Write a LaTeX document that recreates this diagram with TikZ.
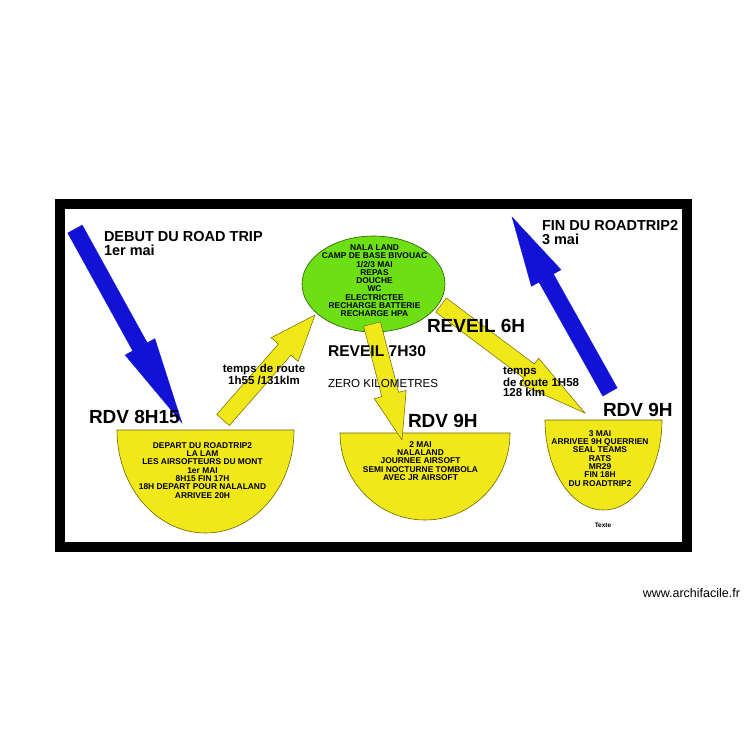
\documentclass[tikz,border=0pt]{standalone}
\usepackage{fontspec}
\setmainfont{Liberation Sans}
\usetikzlibrary{calc}
\definecolor{arrblue}{RGB}{18,18,214}
\definecolor{ryellow}{RGB}{240,232,24}
\definecolor{yline}{RGB}{110,100,0}
\definecolor{rgreen}{RGB}{108,224,20}
\definecolor{gline}{RGB}{40,90,0}
\newcommand\fatarr[6]{%
  \coordinate (fatH) at ($(#2)!#5!(#1)$);
  \filldraw[#6] ($(#1)!#3!90:(#2)$) -- ($(fatH)!#3!90:(#2)$) -- ($(fatH)!#4!90:(#2)$) -- (#2)
    -- ($(fatH)!#4!-90:(#2)$) -- ($(fatH)!#3!-90:(#2)$) -- ($(#1)!#3!-90:(#2)$) -- cycle;}
\tikzset{
  bluearr/.style={fill=arrblue,draw=arrblue,line width=0.3pt},
  yelarr/.style={fill=ryellow,draw=yline,line width=0.5pt},
  bowl/.style={fill=ryellow,draw=yline,line width=0.6pt},
  txt/.style={inner sep=0pt,outer sep=0pt},
  big/.style={txt,font=\fontsize{19}{19}\selectfont\bfseries},
  title/.style={txt,align=left,font=\fontsize{14.5}{14}\selectfont\bfseries},
  small/.style={txt,align=center,font=\fontsize{8.4}{8.3}\selectfont\bfseries},
  route/.style={txt,font=\fontsize{11.5}{10.6}\selectfont\bfseries},
}
\begin{document}
\begin{tikzpicture}[x=1pt,y=-1pt]
\useasboundingbox[fill=white] (0,0) rectangle (750,750);
% frame
\draw[line width=10pt,black] (60,204) rectangle (687,547);
% ellipse
\draw[fill=rgreen,draw=gline,line width=0.6pt] (373.5,284) ellipse [x radius=71.5pt,y radius=48pt];
% bowls
\draw[bowl] (117,430) arc[start angle=180,end angle=360,x radius=88.5pt,y radius=103pt] -- cycle;
\draw[bowl] (340,433) arc[start angle=180,end angle=360,x radius=85pt,y radius=87pt] -- cycle;
\draw[bowl] (545,420) arc[start angle=180,end angle=360,x radius=58.5pt,y radius=90pt] -- cycle;
% arrow end points
\coordinate (bla) at (75,229);   \coordinate (blb) at (182,423);
\coordinate (bra) at (610,392);  \coordinate (brb) at (512,217);
\coordinate (yla) at (223,420);  \coordinate (ylb) at (315,315);
\coordinate (yma) at (372,324);  \coordinate (ymb) at (402,440);
\coordinate (yra) at (441,305);  \coordinate (yrb) at (585,413);
% arrows
\fatarr{yla}{ylb}{8.4pt}{18pt}{46pt}{yelarr}
\fatarr{yma}{ymb}{8.7pt}{16.5pt}{47pt}{yelarr}
\fatarr{yra}{yrb}{8.8pt}{16pt}{70pt}{yelarr}
\fatarr{bla}{blb}{8.3pt}{17pt}{87pt}{bluearr}
\fatarr{bra}{brb}{8.3pt}{17pt}{70pt}{bluearr}
% texts
\node[title,anchor=north west] (debut) at (104,231) {DEBUT DU ROAD TRIP\\1er mai};
\node[title,anchor=north west] (fin) at (542,220.5) {FIN DU ROADTRIP2\\3 mai};
\node[big,anchor=base west] (rdv1) at (89,423) {RDV 8H15};
\node[big,anchor=base west] (rdv2) at (408,427) {RDV 9H};
\node[big,anchor=base west] (rdv3) at (603,416) {RDV 9H};
\node[big,anchor=base west] (rev6) at (427,332) {REVEIL 6H};
\node[txt,anchor=base west,font=\fontsize{15.6}{15.6}\selectfont\bfseries] (rev7) at (328,356) {REVEIL 7H30};
\node[txt,anchor=base west,font=\fontsize{11.6}{11.6}\selectfont] (zero) at (328,387) {ZERO KILOMETRES};
\node[route,align=center,anchor=north] (route1) at (264,364.5) {temps de route\\1h55 /131klm};
\node[route,align=left,anchor=north west] (route2) at (503,366.8) {temps\\de route 1H58\\128 klm};
\node[small,anchor=north] (camp) at (374.5,244.7) {NALA LAND\\CAMP DE BASE BIVOUAC\\1/2/3 MAI\\REPAS\\DOUCHE\\WC\\ELECTRICTEE\\RECHARGE BATTERIE\\RECHARGE HPA};
\node[small,anchor=north] (jour1) at (202.5,442.5) {DEPART DU ROADTRIP2\\LA LAM\\LES AIRSOFTEURS DU MONT\\1er MAI\\8H15 FIN 17H\\18H DEPART POUR NALALAND\\ARRIVEE 20H};
\node[small,anchor=north] (jour2) at (420.5,441.5) {2 MAI\\NALALAND\\JOURNEE AIRSOFT\\SEMI NOCTURNE TOMBOLA\\AVEC JR AIRSOFT};
\node[small,anchor=north] (jour3) at (600,430.5) {3 MAI\\ARRIVEE 9H QUERRIEN\\SEAL TEAMS\\RATS\\MR29\\FIN 18H\\DU ROADTRIP2};
\node[txt,font=\fontsize{6.5}{6.5}\selectfont\bfseries] (texte) at (603,525) {Texte};
\node[txt,anchor=base east,font=\fontsize{12.5}{12.5}\selectfont] (web) at (740,597) {www.archifacile.fr};
\end{tikzpicture}
\end{document}
